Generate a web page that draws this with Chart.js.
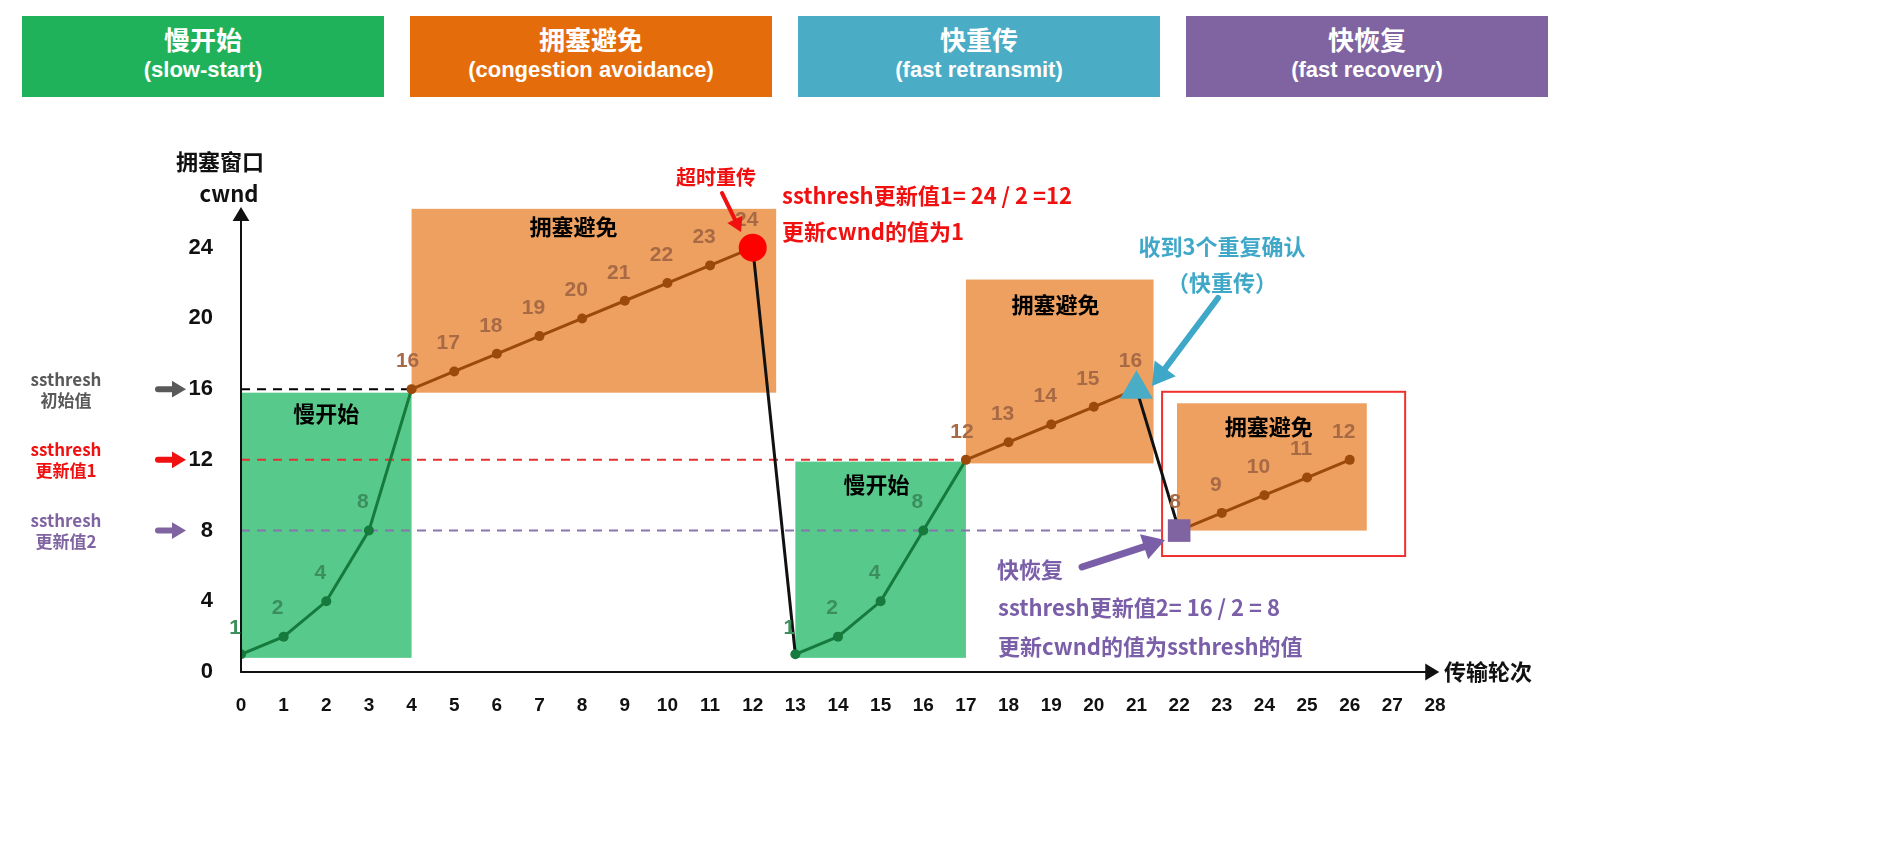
<!DOCTYPE html>
<html><head><meta charset="utf-8">
<script src="https://cdn.jsdelivr.net/npm/chart.js@4"></script>
<style>
body{margin:0;width:1887px;height:857px;background:#fff;overflow:hidden;font-family:"Noto Sans CJK SC","Liberation Sans",sans-serif;position:relative}
.hb{position:absolute;top:16px;height:81px;width:362px;color:#fff;text-align:center;font-weight:bold;line-height:1.3}
.hb .a{font-size:26px;margin-top:6px}.hb .b{font-size:22px;font-family:"Liberation Sans",Arial,sans-serif}
canvas{position:absolute;left:0;top:0}
</style></head><body>
<div class="hb" style="left:22px;background:#1fb25a"><div class="a">慢开始</div><div class="b">(slow-start)</div></div>
<div class="hb" style="left:410px;background:#e46c0a"><div class="a">拥塞避免</div><div class="b">(congestion avoidance)</div></div>
<div class="hb" style="left:798px;background:#4bacc6"><div class="a">快重传</div><div class="b">(fast retransmit)</div></div>
<div class="hb" style="left:1186px;background:#8064a2"><div class="a">快恢复</div><div class="b">(fast recovery)</div></div>
<canvas id="c" width="1887" height="857"></canvas>
<script>
const rounds=[0,1,2,3,4,5,6,7,8,9,10,11,12,13,14,15,16,17,18,19,20,21,22,23,24,25,26];
const cwnd=[1,2,4,8,16,17,18,19,20,21,22,23,24,1,2,4,8,12,13,14,15,16,8,9,10,11,12];
const yTicks=[0,4,8,12,16,20,24];
const ssthresh=[16,12,8];
const phase=['s','s','s','s','c','c','c','c','c','c','c','c','c','s','s','s','s','c','c','c','c','c','c','c','c','c','c'];
const GREEN='#157a3c',BROWN='#9c4a0c';
const F='"Noto Sans CJK SC",sans-serif';

function arrow(ctx,x1,y1,x2,y2,col,w,hl){
  const a=Math.atan2(y2-y1,x2-x1);ctx.save();ctx.strokeStyle=col;ctx.fillStyle=col;ctx.lineWidth=w;ctx.lineCap='round';
  ctx.beginPath();ctx.moveTo(x1,y1);ctx.lineTo(x2-Math.cos(a)*hl*0.8,y2-Math.sin(a)*hl*0.8);ctx.stroke();
  ctx.beginPath();ctx.moveTo(x2,y2);ctx.lineTo(x2-hl*Math.cos(a)+hl*0.6*Math.sin(a),y2-hl*Math.sin(a)-hl*0.6*Math.cos(a));
  ctx.lineTo(x2-hl*Math.cos(a)-hl*0.6*Math.sin(a),y2-hl*Math.sin(a)+hl*0.6*Math.cos(a));ctx.closePath();ctx.fill();ctx.restore();
}
function txt(ctx,s,x,y,col,size,align){ctx.save();ctx.fillStyle=col;ctx.font='bold '+size+'px '+F;ctx.textAlign=align||'center';ctx.textBaseline='middle';ctx.fillText(s,x,y);ctx.restore();}

const deco={id:'deco',
 beforeDatasetsDraw(ch){
  const c=ch.ctx,X=v=>ch.scales.x.getPixelForValue(v),Y=v=>ch.scales.y.getPixelForValue(v);
  const rect=(x1,x2,y1,y2,col)=>{c.fillStyle=col;c.fillRect(X(x1),Y(y2),X(x2)-X(x1),Y(y1)-Y(y2));};
  rect(0,4,0.8,15.8,'#57c98a');rect(13,17,0.8,11.9,'#57c98a');
  rect(4,12.55,15.8,26.2,'#eda060');rect(17,21.4,11.8,22.2,'#eda060');rect(21.95,26.4,8,15.2,'#eda060');
  c.save();c.strokeStyle='#f03030';c.lineWidth=2;c.strokeRect(X(21.6),Y(15.85),X(27.3)-X(21.6),Y(6.56)-Y(15.85));
  c.setLineDash([9,7]);c.lineWidth=2;
  const dl=(y,x2,col)=>{c.strokeStyle=col;c.beginPath();c.moveTo(X(0),Y(y));c.lineTo(X(x2),Y(y));c.stroke();};
  dl(ssthresh[0],4,'#000');dl(ssthresh[1],17,'#e83030');dl(ssthresh[2],22,'#8a74b0');c.restore();
 },
 afterDatasetsDraw(ch){
  const c=ch.ctx,X=v=>ch.scales.x.getPixelForValue(v),Y=v=>ch.scales.y.getPixelForValue(v);
  arrow(c,X(0),Y(0),X(0),Y(26.3),'#111',2,14);arrow(c,X(0),Y(0),X(28.1),Y(0),'#111',2,14);
  rounds.forEach((r,i)=>{const v=cwnd[i];const col=phase[i]==='s'?'#3c8f5c':'#a86a45';
    let dx=-6,dy=-28; if(i===4||i===17||i===22){dx=-4;} if(i===0||i===13){dx=-6;dy=-26;}
    c.save();c.fillStyle=col;c.font='bold 21px "Liberation Sans Narrow","Liberation Sans",sans-serif';c.textAlign='center';c.textBaseline='middle';
    c.fillText(String(v),X(r)+dx,Y(v)+dy);c.restore();});
  txt(c,'拥塞避免',X(7.8),Y(25.2),'#000',22);txt(c,'拥塞避免',X(19.1),Y(20.8),'#000',22);txt(c,'拥塞避免',X(24.1),Y(13.9),'#000',22);
  txt(c,'慢开始',X(2.0),Y(14.6),'#000',22);txt(c,'慢开始',X(14.9),Y(10.6),'#000',22);
  txt(c,'超时重传',716,177,'#f01010',20);arrow(c,722,193,741,232,'#f01010',4,14);
  txt(c,'ssthresh更新值1= 24 / 2 =12',782,196,'#f01010',22,'left');txt(c,'更新cwnd的值为1',782,232,'#f01010',22,'left');
  txt(c,'收到3个重复确认',1222,247,'#3fa8c8',22);txt(c,'（快重传）',1222,283,'#3fa8c8',22);
  arrow(c,1218,298,1152,386,'#3fa8c8',6,22);
  txt(c,'快恢复',1030,570,'#7a5ea8',22);arrow(c,1082,567,1165,540,'#7a5ea8',7,22);
  txt(c,'ssthresh更新值2= 16 / 2 = 8',998,608,'#7a5ea8',22,'left');txt(c,'更新cwnd的值为ssthresh的值',998,647,'#7a5ea8',22,'left');
  const L=[['ssthresh','初始值','#595959',ssthresh[0]],['ssthresh','更新值1','#f01010',ssthresh[1]],['ssthresh','更新值2','#8064a2',ssthresh[2]]];
  L.forEach(l=>{const y=Y(l[3]);txt(c,l[0],66,y-10,l[2],17);txt(c,l[1],66,y+11,l[2],17);arrow(c,158,y,186,y,l[2],6,14);});
  txt(c,'拥塞窗口',220,162,'#111',22);txt(c,'cwnd',229,194,'#111',22);
  txt(c,'传输轮次',1444,672,'#111',22,'left');
 }};

new Chart(document.getElementById('c'),{type:'line',
 data:{datasets:[{data:rounds.map((r,i)=>({x:r,y:cwnd[i]})),borderWidth:3,
  segment:{borderColor:s=>{const i=s.p0DataIndex;if(i===12||i===21)return '#111';return phase[i]==='s'?GREEN:BROWN;}},
  pointRadius:rounds.map((r,i)=>i===12?14:i===21?19:i===22?16:5),
  pointStyle:rounds.map((r,i)=>i===21?'triangle':i===22?'rect':'circle'),
  pointBackgroundColor:rounds.map((r,i)=>i===12?'#f00':i===21?'#4bacc6':i===22?'#8064a2':(phase[i]==='s'?GREEN:BROWN)),
  pointBorderWidth:0,tension:0}]},
 options:{responsive:false,animation:false,events:[],layout:{padding:{top:177,right:452,left:0,bottom:0}},
  plugins:{legend:{display:false},tooltip:{enabled:false}},
  scales:{
   x:{type:'linear',min:0,max:28,grid:{display:false},border:{display:false},
      ticks:{stepSize:1,color:'#111',padding:14,font:{size:19,weight:'bold',family:'Liberation Sans'}},
      afterFit:s=>{s.height=185;}},
   y:{min:0,max:28,grid:{display:false},border:{display:false},afterBuildTicks:s=>{s.ticks=yTicks.map(v=>({value:v}));},
      ticks:{color:'#111',padding:20,font:{size:22,weight:'bold',family:'Liberation Sans'}},
      afterFit:s=>{s.width=241;}}}},
 plugins:[deco]});
</script></body></html>
